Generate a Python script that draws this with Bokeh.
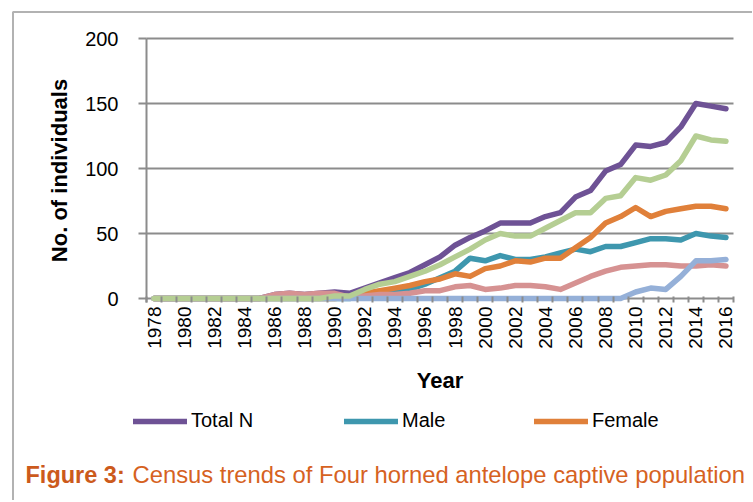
import math
from bokeh.plotting import figure
from bokeh.models import Range1d, FixedTicker, Legend, LegendItem, Label, BoxAnnotation
from bokeh.embed import file_html
from bokeh.resources import INLINE

# ---------------- data ----------------
years = list(range(1978, 2017))
total_n = [0, 0, 0, 0, 0, 0, 0, 0, 3, 4, 3, 4, 5, 4, 8, 12, 16, 20, 26, 32,
           41, 47, 52, 58, 58, 58, 63, 66, 78, 83, 98, 103, 118, 117, 120, 132, 150, 148, 146]
male = [0, 0, 0, 0, 0, 0, 0, 0, 0, 0, 0, 0, 0, 0, 2, 4, 5, 7, 11, 16,
        21, 31, 29, 33, 30, 30, 32, 35, 38, 36, 40, 40, 43, 46, 46, 45, 50, 48, 47]
female = [0, 0, 0, 0, 0, 0, 0, 0, 0, 0, 0, 0, 0, 1, 4, 6, 8, 10, 13, 15,
          19, 17, 23, 25, 29, 28, 31, 31, 39, 47, 58, 63, 70, 63, 67, 69, 71, 71, 69]
series4 = [0, 0, 0, 0, 0, 0, 0, 0, 3, 4, 3, 4, 4, 1, 2, 3, 3, 4, 6, 6,
           9, 10, 7, 8, 10, 10, 9, 7, 12, 17, 21, 24, 25, 26, 26, 25, 25, 26, 25]
series5 = [0, 0, 0, 0, 0, 0, 0, 0, 0, 0, 0, 0, 0, 0, 0, 0, 0, 0, 0, 0,
           0, 0, 0, 0, 0, 0, 0, 0, 0, 0, 0, 0, 5, 8, 7, 17, 29, 29, 30]
series6 = [0, 0, 0, 0, 0, 0, 0, 0, 0, 0, 0, 0, 2, 2, 7, 11, 13, 17, 21, 26,
           32, 38, 45, 50, 48, 48, 54, 60, 66, 66, 77, 79, 93, 91, 95, 106, 125, 122, 121]
legend_labels = ["Total N", "Male", "Female"]
y_ticks = [0, 50, 100, 150, 200]
caption_bold = "Figure 3:"
caption_text = "Census trends of Four horned antelope captive population"

colors = ["#6E5295", "#3E97AE", "#E0803A", "#D69292", "#95B0D8", "#B5CE93"]
all_series = [total_n, male, female, series4, series5, series6]

FONT = "Liberation Sans"
GRID = "#8C8C8C"

# ---------------- layout (canvas pixels) ----------------
W, H = 752, 500
PLOT_L, PLOT_R = 146, 733      # plot-area left/right
PLOT_TOP, PLOT_ZERO = 38, 298  # pixel rows of the top tick and of zero

x_lo, x_hi = years[0] - 0.5, years[-1] + 0.5
xs = (PLOT_R - PLOT_L) / (x_hi - x_lo)
y_top = y_ticks[-1]
ys = (PLOT_ZERO - PLOT_TOP) / y_top
x0, x1 = x_lo - PLOT_L / xs, x_hi + (W - PLOT_R) / xs
y0, y1 = -(H - PLOT_ZERO) / ys, y_top + PLOT_TOP / ys

p = figure(width=W, height=H, output_backend="svg", toolbar_location=None,
           x_range=Range1d(x0, x1), y_range=Range1d(y0, y1), min_border=0)
p.outline_line_color = None
p.background_fill_color = "white"
p.border_fill_color = "white"

# x axis
p.xaxis.fixed_location = 0
p.xaxis.bounds = (x_lo, x_hi)
p.xaxis.ticker = FixedTicker(ticks=years[::2], minor_ticks=[y - 0.5 for y in years] + [x_hi])
p.xaxis.axis_line_color = None
p.xaxis.major_tick_line_color = None
p.xaxis.major_tick_in = 0
p.xaxis.major_tick_out = 0
p.xaxis.minor_tick_line_color = GRID
p.xaxis.minor_tick_line_width = 2
p.xaxis.minor_tick_in = 2
p.xaxis.minor_tick_out = 4
p.xaxis.major_label_orientation = math.pi / 2
p.xaxis.major_label_text_font = FONT
p.xaxis.major_label_text_font_size = "19px"
p.xaxis.major_label_text_color = "black"
p.xaxis.major_label_standoff = 4
p.xaxis.axis_label = "Year"
p.xaxis.axis_label_text_font = FONT
p.xaxis.axis_label_text_font_style = "bold"
p.xaxis.axis_label_text_font_size = "22px"
p.xaxis.axis_label_text_color = "black"
p.xaxis.axis_label_standoff = 16

# y axis
p.yaxis.fixed_location = x_lo
p.yaxis.bounds = (-3, y_top)
p.yaxis.ticker = FixedTicker(ticks=y_ticks)
p.yaxis.axis_line_color = GRID
p.yaxis.axis_line_width = 2
p.yaxis.major_tick_line_color = GRID
p.yaxis.major_tick_line_width = 2
p.yaxis.major_tick_in = 0
p.yaxis.major_tick_out = 8
p.yaxis.minor_tick_line_color = None
p.yaxis.major_label_text_font = FONT
p.yaxis.major_label_text_font_size = "20px"
p.yaxis.major_label_text_color = "black"
p.yaxis.major_label_standoff = 20
p.yaxis.axis_label = "No. of individuals"
p.yaxis.axis_label_text_font = FONT
p.yaxis.axis_label_text_font_style = "bold"
p.yaxis.axis_label_text_font_size = "22px"
p.yaxis.axis_label_text_color = "black"
p.yaxis.axis_label_standoff = 10

p.xgrid.visible = False
p.ygrid.ticker = FixedTicker(ticks=y_ticks)
p.ygrid.cross_bounds = (x_lo, x_hi)
p.ygrid.grid_line_color = GRID
p.ygrid.grid_line_width = 2

renderers = []
for vals, c in zip(all_series, colors):
    r = p.line(years, vals, line_width=5.5, line_color=c, line_join="round", line_cap="round")
    renderers.append(r)

# legends (one per entry, placed like the original)
LEG_Y = H - 432
leg_pos = [(133, LEG_Y), (344, LEG_Y), (534, LEG_Y)]
for lab, r, pos in zip(legend_labels, renderers[:3], leg_pos):
    leg = Legend(items=[LegendItem(label=lab, renderers=[r])], location=pos,
                 orientation="horizontal", padding=0, margin=0, spacing=0,
                 glyph_width=54, glyph_height=20, label_height=20, label_standoff=4,
                 label_text_font=FONT, label_text_font_size="20px",
                 label_text_color="black", border_line_color=None,
                 background_fill_alpha=0, border_line_alpha=0)
    p.add_layout(leg, "center")

# caption
CAP_Y = H - 474
cap1 = Label(x=25, y=CAP_Y, x_units="screen", y_units="screen", text=caption_bold,
             text_font=FONT, text_font_size="23.5px", text_font_style="bold",
             text_color="#CC5A1C", text_baseline="alphabetic")
cap2 = Label(x=132, y=CAP_Y, x_units="screen", y_units="screen", text=caption_text,
             text_font=FONT, text_font_size="23.8px",
             text_color="#D6621F", text_baseline="alphabetic")
p.add_layout(cap1)
p.add_layout(cap2)

# outer panel frame (its right and bottom sides lie outside the picture)
frame_box = BoxAnnotation(left=x0 + 12.5 / xs, right=x1 + 5,
                          top=y1 - 11.5 / ys, bottom=y0 - 5,
                          fill_alpha=0, line_color="black", line_width=2)
p.add_layout(frame_box)

open("out.html", "w").write(file_html(p, INLINE))
